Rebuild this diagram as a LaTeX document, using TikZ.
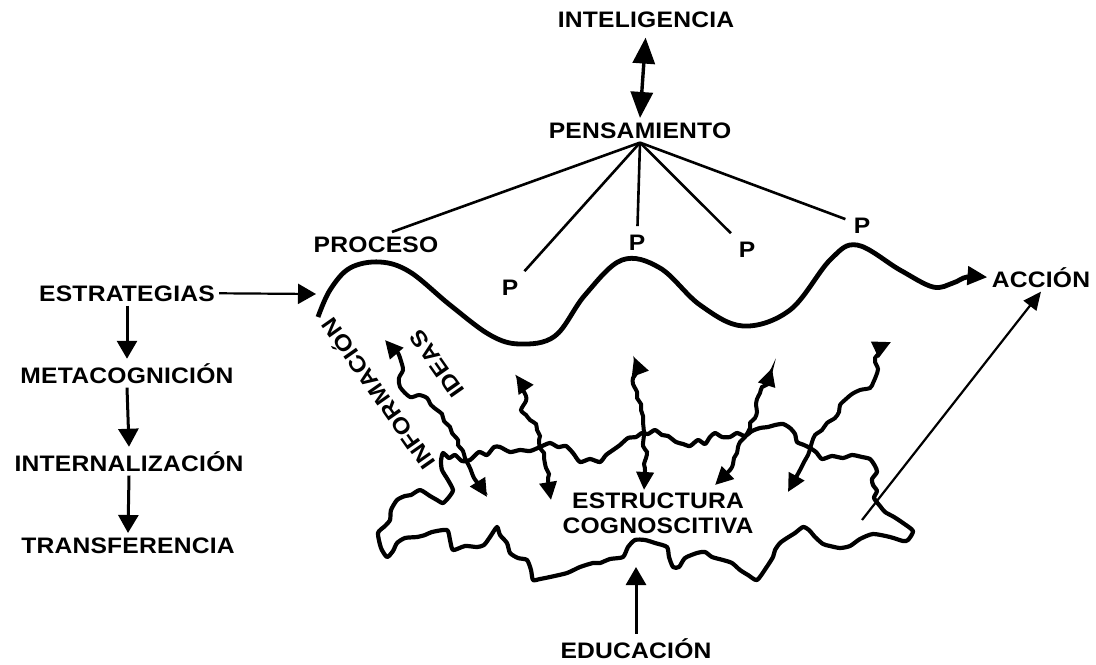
\documentclass[tikz,border=0pt]{standalone}
\usepackage{fontspec}
\usepackage{tikz}
\usetikzlibrary{arrows.meta}
\newfontfamily\diagfont[FakeStretch=1.1,LetterSpace=1]{Liberation Sans}

\begin{document}
\begin{tikzpicture}[x=0.5pt,y=-0.5pt,
	lbl/.style={font=\diagfont\bfseries\fontsize{11.2}{13}\selectfont, inner sep=2pt, anchor=base},
	pl/.style={lbl, inner sep=4pt},
	flow/.style={line width=1.5pt, -{Triangle[length=9pt,width=10pt]}},
	fan/.style={line width=1.3pt},
	wig/.style={line width=2pt, {Triangle[length=9pt,width=8.5pt]}-{Triangle[length=9pt,width=8.5pt]}}]
	\useasboundingbox (0,0) rectangle (1096,664);
	% Labels
	\node[lbl] (intel) at (646,27) {INTELIGENCIA};
	\node[lbl] (pens) at (640,138) {PENSAMIENTO};
	\node[lbl] (proc) at (376,252) {PROCESO};
	\node[pl] (p1) at (510,295) {P};
	\node[pl] (p2) at (637,250) {P};
	\node[pl] (p3) at (747,257) {P};
	\node[pl] (p4) at (862,233) {P};
	\node[lbl] (estr) at (127,301) {ESTRATEGIAS};
	\node[lbl] (meta) at (127,383) {METACOGNICIÓN};
	\node[lbl] (inter) at (129,471) {INTERNALIZACIÓN};
	\node[lbl] (transf) at (128,553) {TRANSFERENCIA};
	\node[lbl] (accion) at (1041,287) {ACCIÓN};
	\node[lbl] (educ) at (636,658) {EDUCACIÓN};
	\node[lbl] (estruc) at (658,508) {ESTRUCTURA};
	\node[lbl] (cogn) at (658,533) {COGNOSCITIVA};
	\node[lbl, anchor=center, rotate=125] (info) at (377,395) {INFORMACIÓN};
	\node[lbl, anchor=center, rotate=125] (ideas) at (437,364) {IDEAS};
	% Free ends
	\coordinate (wv) at (318,317);
	\coordinate (wtip) at (316,294);
	\coordinate (cs) at (862,520);
	\coordinate (ce) at (636,567);
	% Top part
	\draw[line width=1.7pt, {Triangle[length=13pt,width=11pt]}-{Triangle[length=13pt,width=11pt]}, shorten <=3pt] (intel.south) -- (pens.north);
	\foreach \t in {p1,p2,p3,p4} \draw[fan] (pens.south) -- (\t);
	\draw[fan] (pens.south) -- ([xshift=8pt]proc.north);
	% Left column
	\draw[flow, line width=1.1pt] (estr.east) -- (wtip);
	\draw[flow] (estr.south) -- (meta.north);
	\draw[flow] (meta.south) -- (inter.north);
	\draw[flow] (inter.south) -- (transf.north);
	% The wave
	\draw[line width=2.4pt, -{Triangle[length=10pt,width=9pt]}] plot[smooth, tension=0.6] coordinates {
		(wv) (330,290) (350,268) (380,262) (410,272) (450,305) (490,335) (520,344) (555,336)
		(585,295) (622,260) (660,268) (700,305) (743,326) (790,310) (830,260) (857,245)
		(900,270) (933,287) (953,283) (967,277) (accion.west)};
	% The cloud
	\draw[line width=2.1pt, line join=round] plot[smooth cycle, tension=0.4] coordinates {
		(443,453) (449,458) (455,455) (462,461) (470,460) (479,452) (487,455) (494,447) (500,447)
		(510,452) (520,450) (530,451) (540,447) (550,443) (558,447) (566,446) (573,453)
		(580,462) (590,459) (600,462) (606,455) (613,450) (620,445) (628,438) (636,437) (642,433)
		(648,434) (655,430) (662,435) (668,436) (676,442) (683,444) (690,446) (698,440) (705,444)
		(710,437) (715,433) (722,437) (730,437) (737,433) (745,436) (752,431) (760,428) (768,427)
		(775,425) (783,424) (790,428) (795,434) (797,442) (804,445) (810,448) (816,452) (822,459)
		(832,456) (843,458) (852,455) (862,457) (870,459) (875,466) (877,472) (872,479) (873,485)
		(877,491) (874,498) (880,506) (885,512) (894,517) (903,523) (913,531) (908,540) (903,541)
		(890,537) (873,534) (860,539) (850,546) (840,548) (830,546) (823,544) (815,537) (809,530)
		(803,527) (795,533) (787,538) (780,543) (775,550) (773,557) (766,568) (757,580) (748,575)
		(740,570) (732,563) (723,560) (712,557) (705,552) (697,553) (685,558) (679,567) (673,567)
		(669,557) (667,547) (655,543) (645,540) (635,540) (628,547) (623,557) (610,559) (600,563)
		(593,563) (580,567) (567,573) (550,577) (540,579) (533,580) (531,570) (527,560) (518,558)
		(510,553) (507,543) (500,535) (497,527) (490,537) (484,545) (477,547) (465,546) (453,550)
		(450,540) (447,530) (432,532) (425,535) (417,537) (405,538) (397,543) (393,551) (387,557)
		(381,548) (378,533) (385,526) (390,520) (391,510) (397,500) (405,496) (411,495) (420,490)
		(430,496) (437,500) (443,503) (449,497) (453,490) (448,480) (442,470) (441,461)};
	% Wiggly arrows through the cloud
	\draw[wig] plot[smooth] coordinates {(385,340) (393,349) (398,353) (401,361) (403,370) (399,378) (400,387)
		(410,397) (419,395) (427,398) (431,405) (437,410) (442,414) (444,421) (450,427) (452,433)
		(458,440) (458,445) (463,451) (465,458) (470,468) (474,478) (480,486) (487,497)};
	\draw[wig] plot[smooth] coordinates {(516,375) (521,383) (523,390) (526,396) (526,401) (521,410)
		(526,415) (530,420) (536,424) (537,430) (540,436) (539,440) (540,448) (544,453) (544,458)
		(546,468) (549,474) (548,480) (551,500)};
	\draw[wig] plot[smooth] coordinates {(634,357) (637,366) (637,372) (633,378) (633,384) (637,392)
		(637,398) (641,404) (641,410) (643,416) (643,422) (644,434) (643,446) (647,452) (646,458)
		(644,464) (645,470) (644,490)};
	\draw[wig] plot[smooth] coordinates {(772,368) (769,378) (768,384) (762,387) (760,393) (757,399)
		(756,405) (757,412) (755,418) (750,423) (750,428) (745,437) (740,442) (738,447) (737,453)
		(734,458) (733,464) (730,470) (715,485)};
	\draw[wig] plot[smooth] coordinates {(891,342) (884,346) (880,352) (875,358) (875,362) (878,369)
		(876,376) (873,383) (870,388) (860,390) (852,394) (846,399) (840,405) (839,412) (835,418)
		(827,423) (822,430) (815,435) (812,442) (810,449) (808,455) (804,462) (800,470) (788,492)};
	% Bottom
	\draw[flow] (educ.north) -- (ce);
	\draw[line width=1.1pt, -{Triangle[length=9pt,width=8pt]}] (cs) -- (accion.south);
\end{tikzpicture}
\end{document}
